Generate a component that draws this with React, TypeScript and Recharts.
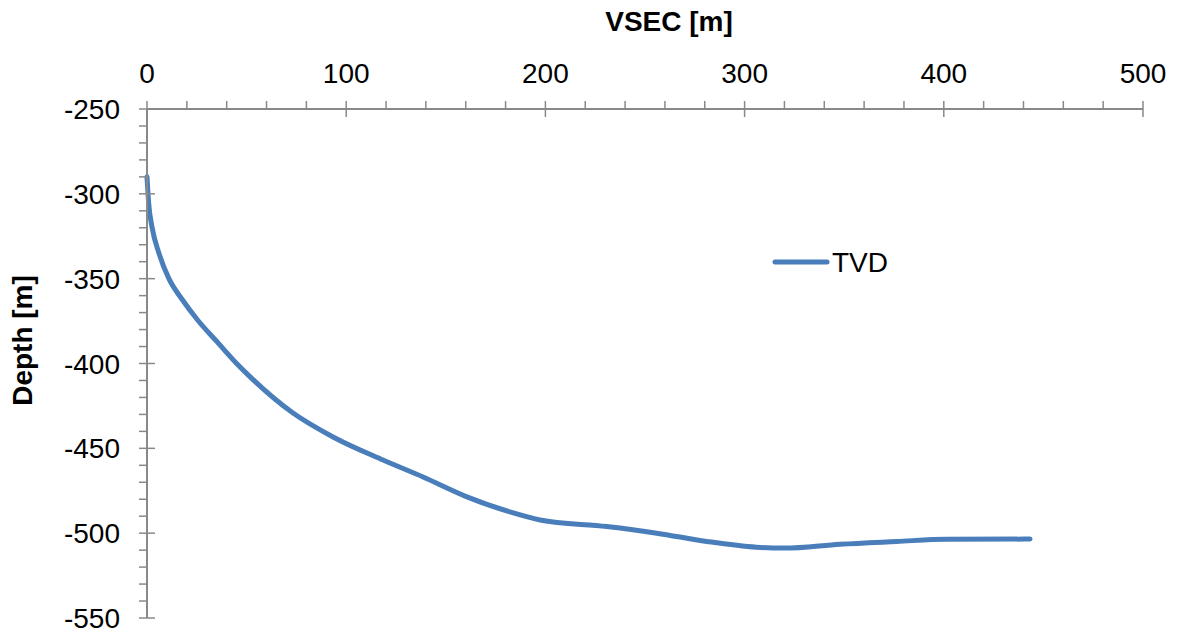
import { LineChart, Line, XAxis, YAxis, Legend, Label } from 'recharts'

// survey points
const vsec = [0, 0.8, 2.6, 6, 11, 17.5, 25.5, 35, 45, 51, 73.3, 93.4, 118.5, 138.6, 160.6, 182.2, 197.3, 230.8, 255.9, 281, 306, 320, 347.9, 376.3, 401.4, 443.3]
const tvd = [-290, -305, -320, -335, -350, -362, -374.5, -387, -400, -407, -429.2, -443.3, -456.9, -466.9, -478.6, -487.5, -492.2, -496.1, -500, -504.9, -508.3, -508.8, -506.5, -504.9, -503.6, -503.5]

const xTicks = [0, 20, 40, 60, 80, 100, 120, 140, 160, 180, 200, 220, 240, 260, 280, 300, 320, 340, 360, 380, 400, 420, 440, 460, 480, 500]
const yTicks = [-550, -540, -530, -520, -510, -500, -490, -480, -470, -460, -450, -440, -430, -420, -410, -400, -390, -380, -370, -360, -350, -340, -330, -320, -310, -300, -290, -280, -270, -260, -250]

const data = vsec.map((v, i) => ({ vsec: v, tvd: tvd[i] }))

const axisColor = '#898989'
const lineColor = '#4a7ebb'
const font = '"Liberation Sans", Arial, sans-serif'

const XTick = ({ x, y, payload }: any) => {
  const major = payload.value % 100 === 0
  return (
    <g>
      <line x1={x} x2={x} y1={y - 8} y2={major ? y + 8 : y} stroke={axisColor} strokeWidth={1.5} />
      {major && (
        <text x={x} y={y - 26} textAnchor="middle" fontSize={28} fontFamily={font} fill="#000">
          {payload.value}
        </text>
      )}
    </g>
  )
}

const YTick = ({ x, y, payload }: any) => {
  const major = payload.value % 50 === 0
  return (
    <g>
      <line x1={x - 8} x2={major ? x + 8 : x} y1={y} y2={y} stroke={axisColor} strokeWidth={1.5} />
      {major && (
        <text x={x - 27} y={y + 10} textAnchor="end" fontSize={28} fontFamily={font} fill="#000">
          {payload.value}
        </text>
      )}
    </g>
  )
}

const DepthLabel = ({ viewBox }: any) => {
  const cx = viewBox.x + 22
  const cy = viewBox.y + viewBox.height / 2 - 23
  return (
    <text
      transform={`translate(${cx}, ${cy}) rotate(-90)`}
      textAnchor="middle"
      dominantBaseline="central"
      fontSize={28}
      fontWeight="bold"
      fontFamily={font}
      fill="#000"
    >
      Depth [m]
    </text>
  )
}

const LegendContent = () => (
  <svg width={130} height={34} style={{ overflow: 'visible' }}>
    <line x1={7} x2={59} y1={17} y2={17} stroke={lineColor} strokeWidth={5} strokeLinecap="round" />
    <text x={64} y={27} fontSize={28} fontFamily={font} fill="#000">TVD</text>
  </svg>
)

export default function App() {
  return (
    <div style={{ position: 'absolute', left: 0, top: 0, background: '#fff' }}>
      <LineChart width={1177} height={635} data={data} margin={{ top: 0, right: 34, bottom: 17, left: 0 }}>
        <XAxis
          dataKey="vsec"
          type="number"
          orientation="top"
          domain={[0, 500]}
          ticks={xTicks}
          interval={0}
          height={109}
          tickSize={0}
          tickMargin={0}
          tickLine={false}
          axisLine={{ stroke: axisColor, strokeWidth: 2 }}
          tick={<XTick />}
        >
          <Label value="VSEC [m]" position="insideTop" offset={11} dx={24} fontSize={28} fontWeight="bold" fontFamily={font} fill="#000" />
        </XAxis>
        <YAxis
          type="number"
          domain={[-550, -250]}
          ticks={yTicks}
          interval={0}
          width={147}
          tickSize={0}
          tickMargin={0}
          tickLine={false}
          axisLine={{ stroke: axisColor, strokeWidth: 2 }}
          tick={<YTick />}
        >
          <Label content={<DepthLabel />} />
        </YAxis>
        <Legend
          content={<LegendContent />}
          wrapperStyle={{ position: 'absolute', left: 768, top: 245, width: 0, height: 0, overflow: 'visible' }}
        />
        <Line
          dataKey="tvd"
          name="TVD"
          type="monotone"
          stroke={lineColor}
          strokeWidth={5}
          strokeLinecap="round"
          dot={false}
          isAnimationActive={false}
        />
      </LineChart>
    </div>
  )
}
